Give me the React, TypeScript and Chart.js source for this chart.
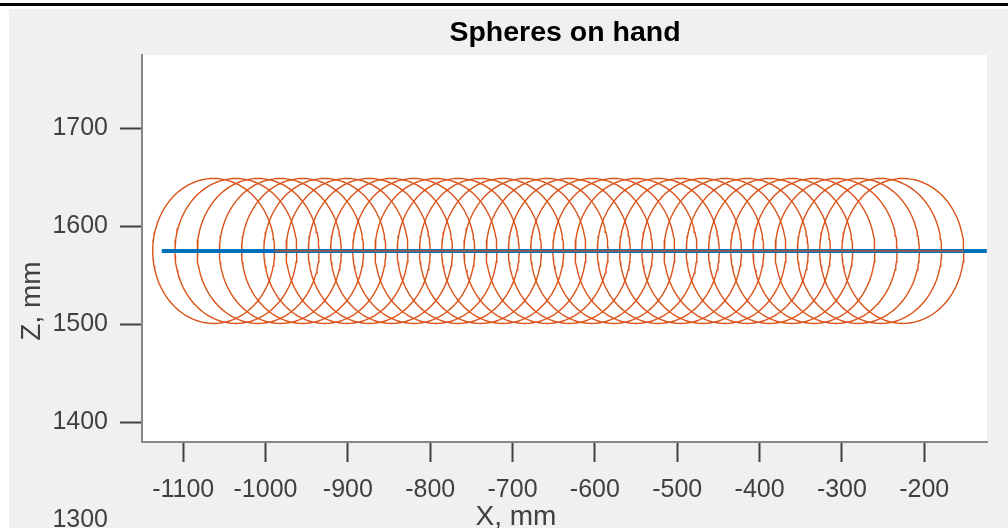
import React, { useEffect, useRef } from "react";
import { Chart, registerables } from "chart.js";

Chart.register(...registerables);

// ---- data ----
const sphereCentersX = [
  -1063, -1036, -1009, -982, -955, -928, -901, -874, -847, -820, -793, -766,
  -739, -712, -685, -658, -631, -604, -577, -550, -523, -496, -469, -442,
  -415, -388, -361, -334, -307, -280, -253, -226,
];
const sphereCenterZ = 1575;
const sphereRadius = 74;

const handLineX = [-1126, -124];
const handLineZ = [1575, 1575];

const axisLineX = [-989, -152];
const axisLineZ = [1575, 1575];

const xTicks = [-1100, -1000, -900, -800, -700, -600, -500, -400, -300, -200];
const yTicks = [1400, 1500, 1600, 1700];
const extraYTick = 1300;

const xRange = [-1150, -123.8];
const yRange = [1380, 1775];

const titleText = "Spheres on hand";
const xLabel = "X, mm";
const yLabel = "Z, mm";

const ORANGE = "#D95319";
const BLUE = "#0072BD";
const TEXT = "#404040";
const FONT = "'Liberation Sans', Arial, Helvetica, sans-serif";

function circlePoints(cx: number, cz: number, r: number) {
  const pts: { x: number; y: number }[] = [];
  const n = 120;
  for (let i = 0; i <= n; i++) {
    const t = (i / n) * Math.PI * 2;
    pts.push({ x: cx + r * Math.cos(t), y: cz + r * Math.sin(t) });
  }
  return pts;
}

export default function App() {
  const ref = useRef<HTMLCanvasElement | null>(null);

  useEffect(() => {
    if (!ref.current) return;

    const circleSets = sphereCentersX.map((cx) => ({
      type: "scatter" as const,
      data: circlePoints(cx, sphereCenterZ, sphereRadius),
      showLine: true,
      borderColor: ORANGE,
      borderWidth: 1.4,
      pointRadius: 0,
      order: 2,
    }));

    const bgPlugin = {
      id: "bg",
      beforeDraw(chart: any) {
        const { ctx, chartArea } = chart;
        ctx.save();
        ctx.fillStyle = "#ffffff";
        ctx.fillRect(0, 0, 1008, 528);
        ctx.fillStyle = "#000000";
        ctx.fillRect(0, 3, 1008, 3);
        ctx.fillStyle = "#f0f0f0";
        ctx.fillRect(9, 9, 999, 519);
        ctx.fillStyle = "#ffffff";
        ctx.fillRect(
          chartArea.left,
          chartArea.top,
          chartArea.right - chartArea.left,
          chartArea.bottom - chartArea.top
        );
        ctx.restore();
      },
      afterDraw(chart: any) {
        const { ctx } = chart;
        const ys = chart.scales.y;
        ctx.save();
        ctx.fillStyle = "#000000";
        ctx.font = `bold 28.5px ${FONT}`;
        ctx.textAlign = "center";
        ctx.textBaseline = "alphabetic";
        ctx.fillText(titleText, 565, 41);

        ctx.fillStyle = TEXT;
        ctx.font = `28px ${FONT}`;
        ctx.fillText(xLabel, 516, 525);

        ctx.save();
        ctx.translate(40, 301);
        ctx.rotate(-Math.PI / 2);
        ctx.textAlign = "center";
        ctx.textBaseline = "alphabetic";
        ctx.fillText(yLabel, 0, 0);
        ctx.restore();

        ctx.font = `25px ${FONT}`;
        ctx.textAlign = "right";
        ctx.textBaseline = "middle";
        ctx.fillText(String(extraYTick), 108, ys.getPixelForValue(extraYTick));
        ctx.restore();
      },
    };

    const chart = new Chart(ref.current, {
      type: "scatter",
      data: {
        datasets: [
          {
            type: "scatter",
            data: axisLineX.map((x, i) => ({ x, y: axisLineZ[i] })),
            showLine: true,
            borderColor: ORANGE,
            borderWidth: 1.2,
            pointRadius: 0,
            order: 0,
          },
          {
            type: "scatter",
            data: handLineX.map((x, i) => ({ x, y: handLineZ[i] })),
            showLine: true,
            borderColor: BLUE,
            borderWidth: 4,
            pointRadius: 0,
            order: 1,
          },
          ...circleSets,
        ],
      },
      options: {
        responsive: false,
        maintainAspectRatio: false,
        animation: false,
        layout: { padding: { top: 55, right: 21, bottom: 0, left: 0 } },
        plugins: {
          legend: { display: false },
          tooltip: { enabled: false },
          title: { display: false },
        },
        scales: {
          x: {
            type: "linear",
            min: xRange[0],
            max: xRange[1],
            afterFit(scale: any) {
              scale.height = 86;
            },
            afterBuildTicks(scale: any) {
              scale.ticks = xTicks.map((v) => ({ value: v }));
            },
            grid: {
              drawOnChartArea: false,
              drawTicks: true,
              tickLength: 20,
              tickColor: TEXT,
              tickWidth: 2,
            },
            border: { display: true, color: "#888888", width: 2 },
            ticks: {
              color: TEXT,
              font: { family: FONT, size: 25 },
              padding: 13,
              maxRotation: 0,
              autoSkip: false,
              callback: (v: any) => String(v),
            },
          },
          y: {
            type: "linear",
            min: yRange[0],
            max: yRange[1],
            afterFit(scale: any) {
              scale.width = 142;
            },
            afterBuildTicks(scale: any) {
              scale.ticks = yTicks.map((v) => ({ value: v }));
            },
            grid: {
              drawOnChartArea: false,
              drawTicks: true,
              tickLength: 22,
              tickColor: TEXT,
              tickWidth: 2,
            },
            border: { display: true, color: "#888888", width: 2 },
            ticks: {
              color: TEXT,
              font: { family: FONT, size: 25 },
              padding: 12,
              autoSkip: false,
              callback: (v: any) => String(v),
            },
          },
        },
      },
      plugins: [bgPlugin],
    } as any);

    return () => chart.destroy();
  }, []);

  return (
    <div
      style={{
        position: "fixed",
        left: 0,
        top: 0,
        width: 1008,
        height: 528,
        background: "#ffffff",
      }}
    >
      <canvas ref={ref} width={1008} height={528} style={{ display: "block" }} />
    </div>
  );
}
